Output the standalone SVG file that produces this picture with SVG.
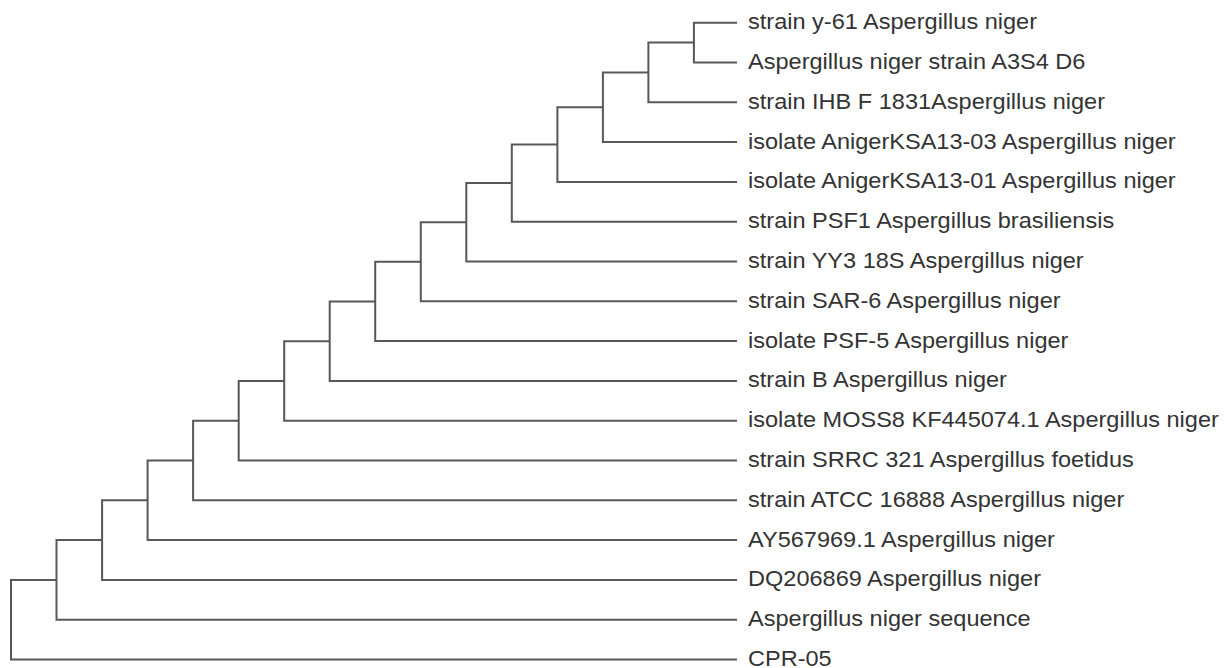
<svg xmlns="http://www.w3.org/2000/svg" width="1231" height="668" viewBox="0 0 1231 668">
<style>
.e{fill:none;stroke:#585858;stroke-width:2;stroke-linejoin:miter;stroke-linecap:butt}
.t{font-family:"Liberation Sans",Arial,sans-serif;font-size:21.5px;fill:#333}
</style>
<rect width="1231" height="668" fill="#fff"/>
<g id="connectors">
<path class="e" d="M56.5 579.9H11V659.5H737"/>
<path class="e" d="M102.1 540.1H56.5V619.7H737"/>
<path class="e" d="M147.6 500.3H102.1V579.9H737"/>
<path class="e" d="M193.1 460.5H147.6V540.1H737"/>
<path class="e" d="M238.7 420.7H193.1V500.3H737"/>
<path class="e" d="M284.2 380.9H238.7V460.5H737"/>
<path class="e" d="M329.7 341.2H284.2V420.7H737"/>
<path class="e" d="M375.2 301.5H329.7V380.9H737"/>
<path class="e" d="M420.8 261.8H375.2V341.1H737"/>
<path class="e" d="M466.3 222.3H420.8V301.3H737"/>
<path class="e" d="M511.8 183.1H466.3V261.5H737"/>
<path class="e" d="M557.4 144.6H511.8V221.7H737"/>
<path class="e" d="M602.9 107.3H557.4V181.9H737"/>
<path class="e" d="M648.4 72.5H602.9V142.1H737"/>
<path class="e" d="M693.9 42.6H648.4V102.3H737"/>
<path class="e" d="M737 22.7H693.9V62.5H737"/>
</g>
<g id="leaf0"><text class="t" transform="translate(748,29.2) scale(1.095,1)">strain y-61 Aspergillus niger</text></g>
<g id="leaf1"><text class="t" transform="translate(748,69) scale(1.095,1)">Aspergillus niger strain A3S4 D6</text></g>
<g id="leaf2"><text class="t" transform="translate(748,108.8) scale(1.095,1)">strain IHB F 1831Aspergillus niger</text></g>
<g id="leaf3"><text class="t" transform="translate(748,148.6) scale(1.095,1)">isolate AnigerKSA13-03 Aspergillus niger</text></g>
<g id="leaf4"><text class="t" transform="translate(748,188.4) scale(1.095,1)">isolate AnigerKSA13-01 Aspergillus niger</text></g>
<g id="leaf5"><text class="t" transform="translate(748,228.2) scale(1.095,1)">strain PSF1 Aspergillus brasiliensis</text></g>
<g id="leaf6"><text class="t" transform="translate(748,268) scale(1.095,1)">strain YY3 18S Aspergillus niger</text></g>
<g id="leaf7"><text class="t" transform="translate(748,307.8) scale(1.095,1)">strain SAR-6 Aspergillus niger</text></g>
<g id="leaf8"><text class="t" transform="translate(748,347.6) scale(1.095,1)">isolate PSF-5 Aspergillus niger</text></g>
<g id="leaf9"><text class="t" transform="translate(748,387.4) scale(1.095,1)">strain B Aspergillus niger</text></g>
<g id="leaf10"><text class="t" transform="translate(748,427.2) scale(1.095,1)">isolate MOSS8 KF445074.1 Aspergillus niger</text></g>
<g id="leaf11"><text class="t" transform="translate(748,467) scale(1.095,1)">strain SRRC 321 Aspergillus foetidus</text></g>
<g id="leaf12"><text class="t" transform="translate(748,506.8) scale(1.095,1)">strain ATCC 16888 Aspergillus niger</text></g>
<g id="leaf13"><text class="t" transform="translate(748,546.6) scale(1.095,1)">AY567969.1 Aspergillus niger</text></g>
<g id="leaf14"><text class="t" transform="translate(748,586.4) scale(1.095,1)">DQ206869 Aspergillus niger</text></g>
<g id="leaf15"><text class="t" transform="translate(748,626.2) scale(1.095,1)">Aspergillus niger sequence</text></g>
<g id="leaf16"><text class="t" transform="translate(748,665.5) scale(1.095,1)">CPR-05</text></g>
</svg>
